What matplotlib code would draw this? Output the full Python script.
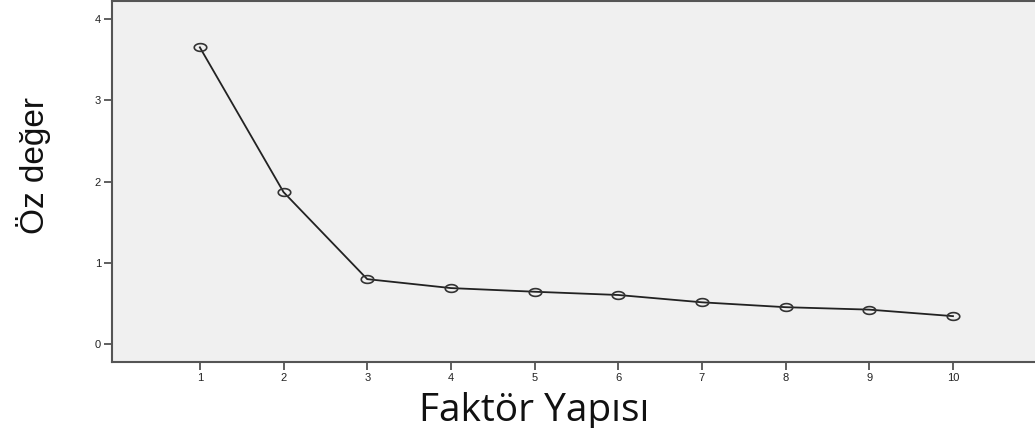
import numpy as np
import matplotlib
matplotlib.use("Agg")
import matplotlib.pyplot as plt
from matplotlib.path import Path

# -- scree plot data -- #
factors = [1, 2, 3, 4, 5, 6, 7, 8, 9, 10]
eigenvalues = [3.65, 1.87, 0.80, 0.69, 0.645, 0.605, 0.515, 0.455, 0.425, 0.345]
y_ticks = [0, 1, 2, 3, 4]

# flattened circle marker (the reference is squashed vertically)
t = np.linspace(0, 2 * np.pi, 40)
ellipse = Path(np.column_stack([np.cos(t), 0.62 * np.sin(t)]), closed=True)

fig = plt.figure(figsize=(10.35, 4.28), dpi=100)
ax = fig.add_axes([0.1082, 0.154, 0.8918, 0.8437])
ax.set_facecolor('#f0f0f0')

ax.plot(factors, eigenvalues, color='#222222', lw=1.3, marker=ellipse,
        ms=9, mfc='none', mec='#333333', mew=1.2)

ax.set_xlim(-0.05, 10.98)
ax.set_ylim(-0.22, 4.22)
ax.set_xticks(factors)
ax.set_yticks(y_ticks)

for s in ['left', 'bottom', 'top']:
    ax.spines[s].set_color('#555555')
    ax.spines[s].set_linewidth(1.5)
ax.spines['right'].set_visible(False)

ax.tick_params(axis='both', direction='out', length=6, width=1.2, color='#444444',
               labelsize=8, labelcolor='#222222', pad=2)
for lab in ax.get_xticklabels() + ax.get_yticklabels():
    lab.set_family(['Liberation Sans', 'DejaVu Sans'])

ax.set_xlabel('Faktör Yapısı', fontsize=28, family=['Open Sans', 'DejaVu Sans'],
              color='#111111')
ax.xaxis.set_label_coords(0.457, -0.135)
ax.xaxis.label.set_va('center')
ax.set_ylabel('Öz değer', fontsize=24, family=['Liberation Sans', 'DejaVu Sans'],
              color='#111111')
ax.yaxis.set_label_coords(-0.085, 0.545)
ax.yaxis.label.set_va('center')

fig.savefig('out.png', dpi=100)
